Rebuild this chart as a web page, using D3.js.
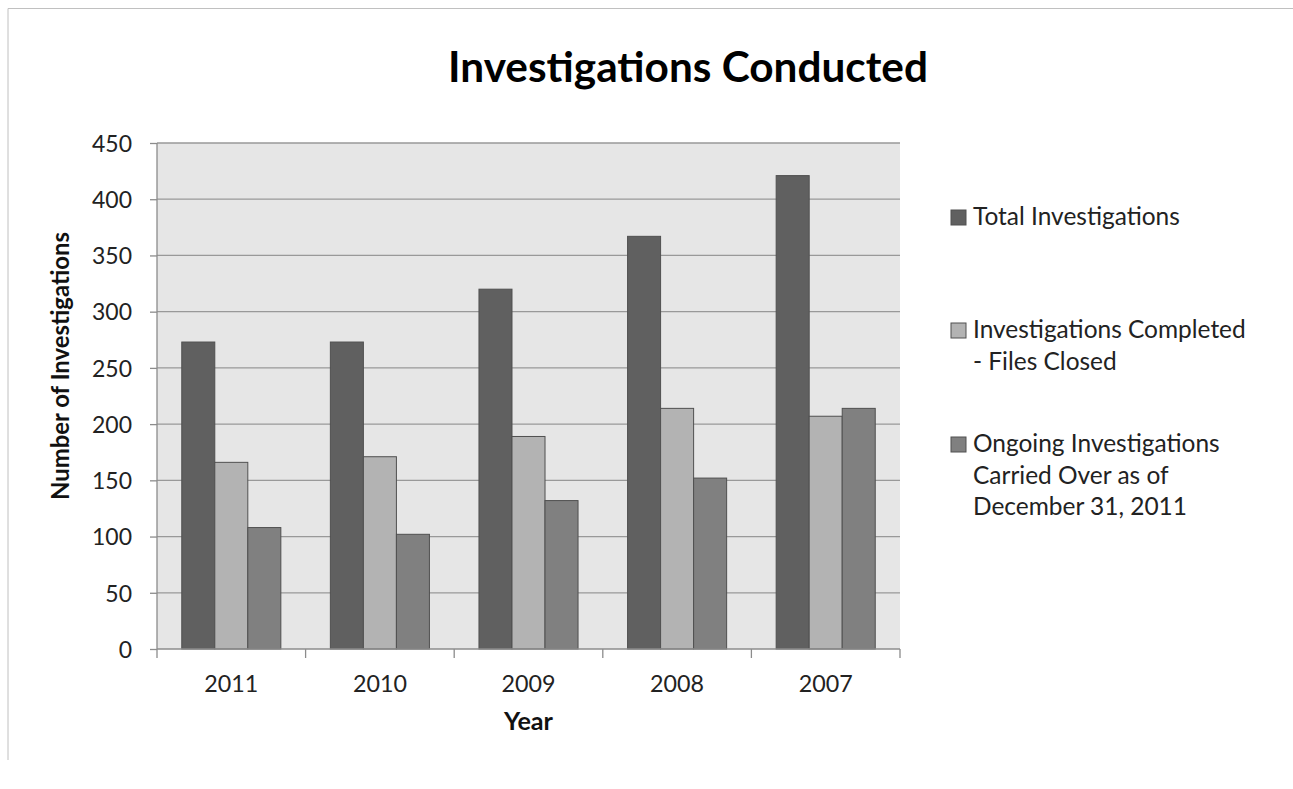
<!DOCTYPE html>
<html><head><meta charset="utf-8">
<script src="https://cdn.jsdelivr.net/npm/d3@7/dist/d3.min.js"></script>
<style>body{margin:0;background:#fff;}svg{display:block;font-family:Lato,"Open Sans",sans-serif;}</style>
</head><body>
<svg id="c" width="1293" height="789"></svg>
<script>
const years = ["2011","2010","2009","2008","2007"];
const seriesNames = ["Total Investigations","Investigations Completed - Files Closed","Ongoing Investigations Carried Over as of December 31, 2011"];
const totalInv = [273, 273, 320, 367, 421];
const completedInv = [166, 171, 189, 214, 207];
const ongoingInv = [108, 102, 132, 152, 214];
const yTicks = [0,50,100,150,200,250,300,350,400,450];
const legendLines = [["Total Investigations"],["Investigations Completed","- Files Closed"],["Ongoing Investigations","Carried Over as of","December 31, 2011"]];
const colors = ["#606060","#b3b3b3","#808080"];

const svg = d3.select("#c");
const values = [totalInv, completedInv, ongoingInv];

svg.append("path").attr("d","M8,760 L8,8.5 L1293,8.5").attr("fill","none").attr("stroke","#c0c0c0").attr("stroke-width",1);

const L=157, R=900, T=143, B=649;
const x = d3.scaleBand().domain(years).range([L,R]).paddingInner(0).paddingOuter(0);
const bw = x.bandwidth()/4.5;
const xs = d3.scaleBand().domain([0,1,2]).range([0.75*bw, 3.75*bw]);
const y = d3.scaleLinear().domain([0,450]).range([B,T]);

svg.append("rect").attr("x",L).attr("y",T).attr("width",R-L).attr("height",B-T).attr("fill","#e6e6e6");

svg.append("g").selectAll("line").data(yTicks.filter(d=>d>0)).join("line")
  .attr("x1",L).attr("x2",R).attr("y1",d=>y(d)).attr("y2",d=>y(d))
  .attr("stroke","#999").attr("stroke-width",1.3);

const g = svg.append("g");
years.forEach((yr,i)=>{
  values.forEach((vals,s)=>{
    g.append("rect").attr("x",x(yr)+xs(s)).attr("width",xs.bandwidth())
      .attr("y",y(vals[i])).attr("height",B-y(vals[i]))
      .attr("fill",colors[s]).attr("stroke","#505050").attr("stroke-width",1);
  });
});

function scaleFor(sel, w){ const n=sel.node(); return w/n.getComputedTextLength(); }

// y axis
const ya = svg.append("g").attr("transform",`translate(${L},0)`)
  .call(d3.axisLeft(y).tickValues(yTicks).tickSize(7).tickPadding(18));
ya.select(".domain").attr("stroke","#8c8c8c").attr("stroke-width",1.3).attr("d",`M0,${T}V${B}`);
ya.selectAll(".tick line").attr("stroke","#8c8c8c").attr("stroke-width",1.3);
const yLab = ya.selectAll("text").attr("font-size",20).attr("fill","#222").attr("font-family","Lato,sans-serif").attr("dy","0.36em");
const yf = 20*scaleFor(ya.selectAll(".tick text").filter(d=>d===450),40);
yLab.attr("font-size",yf);

// x axis
const xa = svg.append("g").attr("transform",`translate(0,${B})`)
  .call(d3.axisBottom(x).tickSize(0).tickPadding(26));
xa.select(".domain").attr("stroke","#8c8c8c").attr("stroke-width",1.3).attr("d",`M${L},0H${R}`);
const xLab = xa.selectAll("text").attr("font-size",20).attr("fill","#222").attr("font-family","Lato,sans-serif").attr("y",43).attr("dy",0);
const xf = 20*scaleFor(xa.selectAll(".tick text").filter(d=>d==="2009"),54);
xLab.attr("font-size",xf);
const xTickPos = years.map(d=>x(d)).concat([R]);
xa.append("g").selectAll("line").data(xTickPos).join("line")
  .attr("x1",d=>d).attr("x2",d=>d).attr("y1",0).attr("y2",9).attr("stroke","#8c8c8c").attr("stroke-width",1.3);

function fit(sel, w){ const fs=+sel.attr("font-size"); sel.attr("font-size", fs*scaleFor(sel,w)); }
const title = svg.append("text").attr("x",688).attr("y",82).attr("text-anchor","middle")
  .attr("font-size",44).attr("font-weight","bold").attr("fill","#000").text("Investigations Conducted");
fit(title,480);
const xt = svg.append("text").attr("x",(L+R)/2).attr("y",730).attr("text-anchor","middle")
  .attr("font-size",19).attr("font-weight","bold").attr("fill","#111").text("Year");
fit(xt,49);
const yt = svg.append("text").attr("transform",`translate(69,366) rotate(-90)`).attr("text-anchor","middle")
  .attr("font-size",19).attr("font-weight","bold").attr("fill","#111").text("Number of Investigations");
fit(yt,268);

// legend
const legTop = [225, 338, 452];
const lg = svg.append("g");
const legTexts = [];
legendLines.forEach((lines,s)=>{
  lg.append("rect").attr("x",951).attr("y",legTop[s]-15).attr("width",15).attr("height",15)
    .attr("fill",colors[s]).attr("stroke","#505050").attr("stroke-width",1);
  lines.forEach((ln,k)=>{
    const t = lg.append("text").attr("x",973).attr("y",legTop[s]+k*31.5).attr("font-size",20).attr("fill","#222").text(ln);
    legTexts.push(t);
  });
});
const s1 = scaleFor(legTexts[0],209), s2 = scaleFor(legTexts[1],270);
const lf = 20*(s1+s2)/2;
legTexts.forEach(t=>t.attr("font-size",lf));
</script>
</body></html>
